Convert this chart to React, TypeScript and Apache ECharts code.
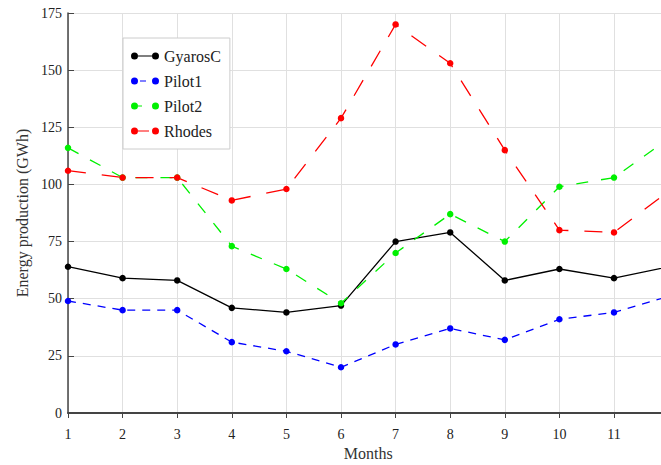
import React, { useEffect, useRef } from "react";
import * as echarts from "echarts";

const months = [1, 2, 3, 4, 5, 6, 7, 8, 9, 10, 11, 12];
const gyarosC = [64, 59, 58, 46, 44, 47, 75, 79, 58, 63, 59, 64];
const pilot1 = [49, 45, 45, 31, 27, 20, 30, 37, 32, 41, 44, 51];
const pilot2 = [116, 103, 103, 73, 63, 48, 70, 87, 75, 99, 103, 120];
const rhodes = [106, 103, 103, 93, 98, 129, 170, 153, 115, 80, 79, 97];
const yTicks = [0, 25, 50, 75, 100, 125, 150, 175];

const FONT = "'Liberation Serif', 'DejaVu Serif', serif";

const circles =
  "M0,3.5 A3.5,3.5 0 1,1 7,3.5 A3.5,3.5 0 1,1 0,3.5 Z " +
  "M21,3.5 A3.5,3.5 0 1,1 28,3.5 A3.5,3.5 0 1,1 21,3.5 Z ";
const seg = (a: number, b: number) => `M${a},2.9 L${b},2.9 L${b},4.1 L${a},4.1 Z `;

const seriesDefs = [
  { name: "GyarosC", values: gyarosC, color: "#000000", dash: "solid" as any, icon: circles + seg(7, 21) },
  { name: "Pilot1", values: pilot1, color: "#0000ff", dash: [8, 7], icon: circles + seg(9, 15) },
  { name: "Pilot2", values: pilot2, color: "#00f000", dash: [12, 13], icon: circles + seg(7, 11) },
  { name: "Rhodes", values: rhodes, color: "#ff0000", dash: [18, 16], icon: circles + seg(7, 18) },
];

export default function App() {
  const ref = useRef<HTMLDivElement>(null);
  useEffect(() => {
    if (!ref.current) return;
    const chart = echarts.init(ref.current, null, { renderer: "svg" });
    chart.setOption({
      animation: false,
      backgroundColor: "#ffffff",
      textStyle: { fontFamily: FONT },
      grid: {
        left: 68,
        top: 13,
        right: -7.6,
        bottom: 52,
        containLabel: false,
        outerBoundsMode: "none",
      },
      legend: {
        orient: "vertical",
        left: 123,
        top: 38,
        padding: [10, 9, 10, 8],
        itemGap: 9,
        itemWidth: 28,
        itemHeight: 7,
        itemTextGap: 6,
        backgroundColor: "#ffffff",
        borderColor: "#cccccc",
        borderWidth: 1,
        borderRadius: 0,
        textStyle: { fontFamily: FONT, fontSize: 16, color: "#222" },
        itemStyle: { borderWidth: 0 },
        data: seriesDefs.map((s) => ({ name: s.name, icon: "path://" + s.icon })),
      },
      xAxis: {
        type: "value",
        min: 1,
        max: 12,
        interval: 1,
        name: "Months",
        nameLocation: "middle",
        nameGap: 31,
        nameTextStyle: { fontFamily: FONT, fontSize: 16, color: "#333" },
        axisLine: { show: true, onZero: false, lineStyle: { color: "#444", width: 2 } },
        axisTick: { show: true, inside: false, length: 5, lineStyle: { color: "#444" } },
        axisLabel: {
          fontFamily: FONT,
          fontSize: 14,
          color: "#222",
          margin: 14,
          formatter: (v: number) => (Number.isInteger(v) && months.includes(v) && v < 12 ? String(v) : ""),
        },
        splitLine: { show: true, lineStyle: { color: "#e0e0e0", width: 1 } },
      },
      yAxis: {
        type: "value",
        min: yTicks[0],
        max: yTicks[yTicks.length - 1],
        interval: 25,
        name: "Energy production (GWh)",
        nameLocation: "middle",
        nameGap: 29,
        nameTextStyle: { fontFamily: FONT, fontSize: 16, color: "#333" },
        axisLine: { show: true, lineStyle: { color: "#444", width: 1.5 } },
        axisTick: { show: true, inside: true, length: 6, lineStyle: { color: "#444" } },
        axisLabel: { fontFamily: FONT, fontSize: 14, color: "#222", margin: 6 },
        splitLine: { show: true, lineStyle: { color: "#e0e0e0", width: 1 } },
      },
      series: seriesDefs.map((s) => ({
        name: s.name,
        type: "line",
        data: months.map((m, i) => [m, s.values[i]]),
        symbol: "circle",
        symbolSize: 6.5,
        clip: true,
        color: s.color,
        itemStyle: { color: s.color, borderWidth: 0 },
        lineStyle: { color: s.color, width: 1.3, type: s.dash },
      })),
    });
    return () => chart.dispose();
  }, []);
  return <div ref={ref} style={{ position: "fixed", left: 0, top: 0, width: 661, height: 465 }} />;
}
